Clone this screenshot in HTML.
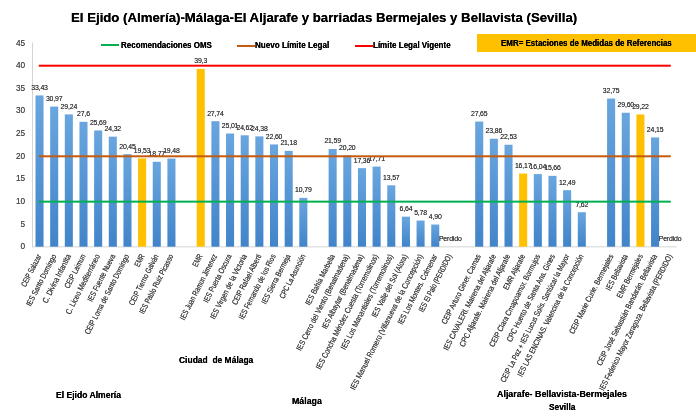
<!DOCTYPE html>
<html><head><meta charset="utf-8"><style>
html,body{margin:0;padding:0;background:#fff;}
body{width:696px;height:416px;position:relative;overflow:hidden;font-family:"Liberation Sans",sans-serif;-webkit-font-smoothing:antialiased;}
#w{position:absolute;left:0;top:0;width:696px;height:416px;will-change:transform;filter:blur(0.45px);}
.t{position:absolute;white-space:nowrap;line-height:1;transform-origin:0 0;}
.b{position:absolute;}
.pl{position:absolute;left:0;top:0;}
.bb{background:linear-gradient(to bottom,#64a2dd,#4386ca);}
.by{background:#ffc000;}
.yl{position:absolute;font-size:8.2px;color:#505050;text-shadow:0 0 0.3px #505050;text-align:right;width:20px;line-height:1;}
.dl{position:absolute;font-size:6.9px;color:#404040;text-align:center;width:30px;line-height:1;letter-spacing:-0.15px;text-shadow:0 0 0.3px #404040;}
.xl{position:absolute;font-size:8.2px;color:#404040;text-shadow:0 0 0.35px #505050;white-space:nowrap;line-height:1;transform-origin:100% 50%;text-align:right;}
.g{position:absolute;font-weight:bold;color:#000;text-shadow:0 0 0.25px #000;white-space:nowrap;line-height:1;transform-origin:0 0;}
</style></head><body><div id="w">

<div class="g" style="left:71px;top:11.5px;font-size:12.6px;transform:scaleX(1.049)">El Ejido (Almería)-Málaga-El Aljarafe y barriadas Bermejales y Bellavista (Sevilla)</div>
<div class="b" style="left:101px;top:44.2px;width:18px;height:2px;background:#00b050"></div>
<div class="g" style="left:120.5px;top:40.5px;font-size:8.6px;transform:scaleX(0.929)">Recomendaciones OMS</div>
<div class="b" style="left:237px;top:44.5px;width:18px;height:2px;background:#c55a11"></div>
<div class="g" style="left:255px;top:40.5px;font-size:8.6px;transform:scaleX(0.941)">Nuevo Límite Legal</div>
<div class="b" style="left:355px;top:44.5px;width:18px;height:2px;background:#ff0000"></div>
<div class="g" style="left:373px;top:40.5px;font-size:8.6px;transform:scaleX(0.93)">Límite Legal Vigente</div>
<div class="b" style="left:477px;top:34px;width:230px;height:18px;background:#ffc000"></div>
<div class="g" style="left:501px;top:38.5px;font-size:8.6px;transform:scaleX(0.925)">EMR= Estaciones de Medidas de Referencias</div>
<div class="yl" style="left:5px;top:243.1px">0</div>
<div class="yl" style="left:5px;top:220.5px">5</div>
<div class="yl" style="left:5px;top:197.8px">10</div>
<div class="yl" style="left:5px;top:175.2px">15</div>
<div class="yl" style="left:5px;top:152.6px">20</div>
<div class="yl" style="left:5px;top:130.0px">25</div>
<div class="yl" style="left:5px;top:107.3px">30</div>
<div class="yl" style="left:5px;top:84.7px">35</div>
<div class="yl" style="left:5px;top:62.1px">40</div>
<div class="yl" style="left:5px;top:39.5px">45</div>
<svg class="pl" width="696" height="416" viewBox="0 0 696 416"><defs><linearGradient id="gb" x1="0" y1="0" x2="0" y2="1"><stop offset="0" stop-color="#69a6df"/><stop offset="1" stop-color="#4184c9"/></linearGradient></defs><rect x="32" y="42.6" width="0.9" height="204.6" fill="#d0d0d0"/><rect x="32" y="246.4" width="644.6" height="0.9" fill="#d0d0d0"/><rect x="35.50" y="95.43" width="8.05" height="151.27" fill="url(#gb)"/><rect x="50.16" y="106.56" width="8.05" height="140.14" fill="url(#gb)"/><rect x="64.81" y="114.39" width="8.05" height="132.31" fill="url(#gb)"/><rect x="79.47" y="121.81" width="8.05" height="124.89" fill="url(#gb)"/><rect x="94.13" y="130.45" width="8.05" height="116.25" fill="url(#gb)"/><rect x="108.78" y="136.65" width="8.05" height="110.05" fill="url(#gb)"/><rect x="123.44" y="154.16" width="8.05" height="92.54" fill="url(#gb)"/><rect x="138.09" y="158.33" width="8.05" height="88.37" fill="#ffc000"/><rect x="152.75" y="161.77" width="8.05" height="84.93" fill="url(#gb)"/><rect x="167.41" y="158.55" width="8.05" height="88.15" fill="url(#gb)"/><rect x="196.72" y="68.87" width="8.05" height="177.83" fill="#ffc000"/><rect x="211.38" y="121.18" width="8.05" height="125.52" fill="url(#gb)"/><rect x="226.03" y="133.53" width="8.05" height="113.17" fill="url(#gb)"/><rect x="240.69" y="135.29" width="8.05" height="111.41" fill="url(#gb)"/><rect x="255.34" y="136.38" width="8.05" height="110.32" fill="url(#gb)"/><rect x="270.00" y="144.43" width="8.05" height="102.27" fill="url(#gb)"/><rect x="284.66" y="150.86" width="8.05" height="95.84" fill="url(#gb)"/><rect x="299.31" y="197.88" width="8.05" height="48.82" fill="url(#gb)"/><rect x="328.62" y="149.01" width="8.05" height="97.69" fill="url(#gb)"/><rect x="343.28" y="155.29" width="8.05" height="91.41" fill="url(#gb)"/><rect x="357.94" y="168.15" width="8.05" height="78.55" fill="url(#gb)"/><rect x="372.59" y="166.56" width="8.05" height="80.14" fill="url(#gb)"/><rect x="387.25" y="185.30" width="8.05" height="61.40" fill="url(#gb)"/><rect x="401.90" y="216.65" width="8.05" height="30.05" fill="url(#gb)"/><rect x="416.56" y="220.55" width="8.05" height="26.15" fill="url(#gb)"/><rect x="431.22" y="224.53" width="8.05" height="22.17" fill="url(#gb)"/><rect x="475.18" y="121.58" width="8.05" height="125.12" fill="url(#gb)"/><rect x="489.84" y="138.73" width="8.05" height="107.97" fill="url(#gb)"/><rect x="504.50" y="144.75" width="8.05" height="101.95" fill="url(#gb)"/><rect x="519.15" y="173.53" width="8.05" height="73.17" fill="#ffc000"/><rect x="533.81" y="174.12" width="8.05" height="72.58" fill="url(#gb)"/><rect x="548.46" y="175.84" width="8.05" height="70.86" fill="url(#gb)"/><rect x="563.12" y="190.18" width="8.05" height="56.52" fill="url(#gb)"/><rect x="577.78" y="212.22" width="8.05" height="34.48" fill="url(#gb)"/><rect x="607.09" y="98.51" width="8.05" height="148.19" fill="url(#gb)"/><rect x="621.74" y="112.76" width="8.05" height="133.94" fill="url(#gb)"/><rect x="636.40" y="114.48" width="8.05" height="132.22" fill="#ffc000"/><rect x="651.06" y="137.42" width="8.05" height="109.28" fill="url(#gb)"/></svg>
<div class="dl" style="left:24.53px;top:84.83px">33,43</div>
<div class="dl" style="left:39.18px;top:95.96px">30,97</div>
<div class="dl" style="left:53.84px;top:103.79px">29,24</div>
<div class="dl" style="left:68.50px;top:111.21px">27,6</div>
<div class="dl" style="left:83.15px;top:119.85px">25,69</div>
<div class="dl" style="left:97.81px;top:126.05px">24,32</div>
<div class="dl" style="left:112.46px;top:143.56px">20,45</div>
<div class="dl" style="left:127.12px;top:147.73px">19,53</div>
<div class="dl" style="left:141.78px;top:151.17px">18,77</div>
<div class="dl" style="left:156.43px;top:147.95px">19,48</div>
<div class="dl" style="left:185.74px;top:58.27px">39,3</div>
<div class="dl" style="left:200.40px;top:110.58px">27,74</div>
<div class="dl" style="left:215.06px;top:122.93px">25,01</div>
<div class="dl" style="left:229.71px;top:124.69px">24,62</div>
<div class="dl" style="left:244.37px;top:125.78px">24,38</div>
<div class="dl" style="left:259.02px;top:133.83px">22,60</div>
<div class="dl" style="left:273.68px;top:140.26px">21,18</div>
<div class="dl" style="left:288.34px;top:187.28px">10,79</div>
<div class="dl" style="left:317.65px;top:138.41px">21,59</div>
<div class="dl" style="left:332.30px;top:144.69px">20,20</div>
<div class="dl" style="left:346.96px;top:157.55px">17,36</div>
<div class="dl" style="left:361.62px;top:155.96px">17,71</div>
<div class="dl" style="left:376.27px;top:174.70px">13,57</div>
<div class="dl" style="left:390.93px;top:206.05px">6,64</div>
<div class="dl" style="left:405.58px;top:209.95px">5,78</div>
<div class="dl" style="left:420.24px;top:213.93px">4,90</div>
<div class="dl" style="left:438.90px;top:235.50px;text-align:left">Perdido</div>
<div class="dl" style="left:464.21px;top:110.98px">27,65</div>
<div class="dl" style="left:478.86px;top:128.13px">23,86</div>
<div class="dl" style="left:493.52px;top:134.15px">22,53</div>
<div class="dl" style="left:508.18px;top:162.93px">16,17</div>
<div class="dl" style="left:522.83px;top:163.52px">16,04</div>
<div class="dl" style="left:537.49px;top:165.24px">15,66</div>
<div class="dl" style="left:552.14px;top:179.58px">12,49</div>
<div class="dl" style="left:566.80px;top:201.62px">7,62</div>
<div class="dl" style="left:596.11px;top:87.91px">32,75</div>
<div class="dl" style="left:610.77px;top:102.16px">29,60</div>
<div class="dl" style="left:625.42px;top:103.88px">29,22</div>
<div class="dl" style="left:640.08px;top:126.82px">24,15</div>
<div class="dl" style="left:658.74px;top:235.50px;text-align:left">Perdido</div>
<svg class="pl" width="696" height="416" viewBox="0 0 696 416"><rect x="38.8" y="64.70" width="632" height="2" fill="#ff0000"/><rect x="38.8" y="155.30" width="632" height="2" fill="#c55a11"/><rect x="38.8" y="200.65" width="632" height="2" fill="#00b050"/></svg>
<div class="xl" style="right:655.87px;top:250.60px;transform:rotate(-63deg) scaleX(0.722)">CEIP Salazar</div>
<div class="xl" style="right:641.22px;top:250.60px;transform:rotate(-63deg) scaleX(0.794)">IES Santo Domingo</div>
<div class="xl" style="right:626.56px;top:250.60px;transform:rotate(-63deg) scaleX(0.831)">C. Divina Infantita</div>
<div class="xl" style="right:611.90px;top:250.60px;transform:rotate(-63deg) scaleX(0.771)">CEIP Laimun</div>
<div class="xl" style="right:597.25px;top:250.60px;transform:rotate(-63deg) scaleX(0.823)">C. Liceo Mediterráneo</div>
<div class="xl" style="right:582.59px;top:250.60px;transform:rotate(-63deg) scaleX(0.776)">IES Fuente Nueva</div>
<div class="xl" style="right:567.94px;top:250.60px;transform:rotate(-63deg) scaleX(0.794)">CEIP Loma de Santo Domingo</div>
<div class="xl" style="right:553.28px;top:250.60px;transform:rotate(-63deg) scaleX(0.713)">EMR</div>
<div class="xl" style="right:538.62px;top:250.60px;transform:rotate(-63deg) scaleX(0.778)">CEIP Tierno Galván</div>
<div class="xl" style="right:523.97px;top:250.60px;transform:rotate(-63deg) scaleX(0.765)">IES Pablo Ruiz Picasso</div>
<div class="xl" style="right:494.66px;top:250.60px;transform:rotate(-63deg) scaleX(0.713)">EMR</div>
<div class="xl" style="right:480.00px;top:250.60px;transform:rotate(-63deg) scaleX(0.767)">IES Juan Ramon Jimenez</div>
<div class="xl" style="right:465.34px;top:250.60px;transform:rotate(-63deg) scaleX(0.778)">IES Puerta Oscura</div>
<div class="xl" style="right:450.69px;top:250.60px;transform:rotate(-63deg) scaleX(0.809)">IES Virgen de la Victoria</div>
<div class="xl" style="right:436.03px;top:250.60px;transform:rotate(-63deg) scaleX(0.793)">CEIP Rafael Alberti</div>
<div class="xl" style="right:421.38px;top:250.60px;transform:rotate(-63deg) scaleX(0.770)">IES Fernando de los Rios</div>
<div class="xl" style="right:406.72px;top:250.60px;transform:rotate(-63deg) scaleX(0.780)">IES Sierra Bermeja</div>
<div class="xl" style="right:392.06px;top:250.60px;transform:rotate(-63deg) scaleX(0.755)">CPC La Asunción</div>
<div class="xl" style="right:362.75px;top:250.60px;transform:rotate(-63deg) scaleX(0.792)">IES Bahía Marbella</div>
<div class="xl" style="right:348.10px;top:250.60px;transform:rotate(-63deg) scaleX(0.806)">IES Cerro del Viento (Benalmadena)</div>
<div class="xl" style="right:333.44px;top:250.60px;transform:rotate(-63deg) scaleX(0.800)">IES Albaytar (Benalmadena)</div>
<div class="xl" style="right:318.78px;top:250.60px;transform:rotate(-63deg) scaleX(0.810)">IES Concha Méndez Cuesta (Torremolinos)</div>
<div class="xl" style="right:304.13px;top:250.60px;transform:rotate(-63deg) scaleX(0.816)">IES Los Manantiales (Torremolinos)</div>
<div class="xl" style="right:289.47px;top:250.60px;transform:rotate(-63deg) scaleX(0.799)">IES Valle del Sol (Alora)</div>
<div class="xl" style="right:274.82px;top:250.60px;transform:rotate(-63deg) scaleX(0.818)">IES Manuel Romero (Villanueva de la Concepción)</div>
<div class="xl" style="right:260.16px;top:250.60px;transform:rotate(-63deg) scaleX(0.793)">IES Los Montes. Colmenar</div>
<div class="xl" style="right:245.50px;top:250.60px;transform:rotate(-63deg) scaleX(0.737)">IES El Palo (PERDIDO)</div>
<div class="xl" style="right:216.19px;top:250.60px;transform:rotate(-63deg) scaleX(0.809)">CEIP Arturo Giner. Camas</div>
<div class="xl" style="right:201.54px;top:250.60px;transform:rotate(-63deg) scaleX(0.809)">IES CAVALERI. Mairena del Aljarafe</div>
<div class="xl" style="right:186.88px;top:250.60px;transform:rotate(-63deg) scaleX(0.829)">CPC Aljarafe. Mairena del Aljarafe</div>
<div class="xl" style="right:172.22px;top:250.60px;transform:rotate(-63deg) scaleX(0.813)">EMR Aljarafe</div>
<div class="xl" style="right:157.57px;top:250.60px;transform:rotate(-63deg) scaleX(0.810)">CEIP Clara Cmapoamor. Bormujos</div>
<div class="xl" style="right:142.91px;top:250.60px;transform:rotate(-63deg) scaleX(0.799)">CPC Huerto de Santa Ana. Gines</div>
<div class="xl" style="right:128.26px;top:250.60px;transform:rotate(-63deg) scaleX(0.775)">CEIP La Paz + IES Lucus Solis. Sanlúcar la Mayor</div>
<div class="xl" style="right:113.60px;top:250.60px;transform:rotate(-63deg) scaleX(0.777)">IES LAS ENCINAS. Valencina de la Concepción</div>
<div class="xl" style="right:84.29px;top:250.60px;transform:rotate(-63deg) scaleX(0.809)">CEIP Marie Curie. Bermejales</div>
<div class="xl" style="right:69.63px;top:250.60px;transform:rotate(-63deg) scaleX(0.782)">IES Bellavista</div>
<div class="xl" style="right:54.98px;top:250.60px;transform:rotate(-63deg) scaleX(0.780)">EMR Bermejales</div>
<div class="xl" style="right:40.32px;top:250.60px;transform:rotate(-63deg) scaleX(0.800)">CEIP José Sebastián Bandarán. Bellavista</div>
<div class="xl" style="right:25.66px;top:250.60px;transform:rotate(-63deg) scaleX(0.783)">IES Federico Mayor Zaragoza. Bellavista (PERDIDO)</div>
<div class="g" style="left:178.8px;top:354.6px;font-size:9.5px;transform:scaleX(0.891)">Ciudad&nbsp; de Málaga</div>
<div class="g" style="left:55.5px;top:390px;font-size:9.5px;transform:scaleX(0.903)">El Ejido Almería</div>
<div class="g" style="left:291.5px;top:395.9px;font-size:9.5px;transform:scaleX(0.925)">Málaga</div>
<div class="g" style="left:497.2px;top:389.3px;font-size:9.5px;transform:scaleX(0.935)">Aljarafe- Bellavista-Bermejales</div>
<div class="g" style="left:549px;top:402px;font-size:9.5px;transform:scaleX(0.88)">Sevilla</div>
</div></body></html>
